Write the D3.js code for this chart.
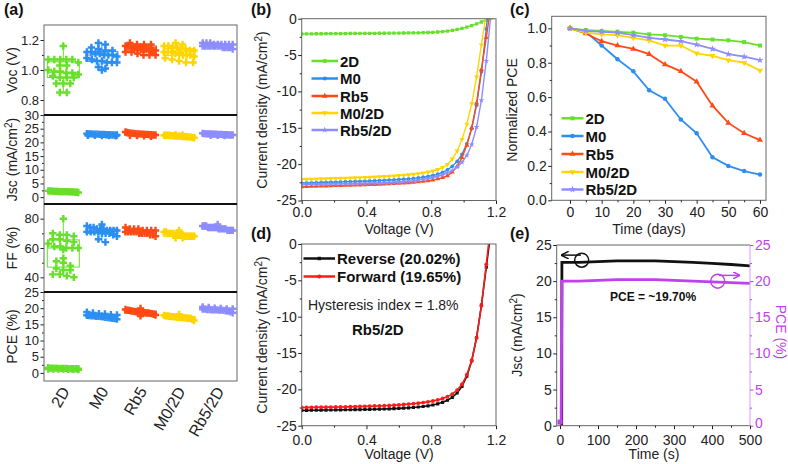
<!DOCTYPE html>
<html>
<head>
<meta charset="utf-8">
<script src="https://cdn.jsdelivr.net/npm/d3@7"></script>
<style>
  body { margin: 0; background: #fff; }
  svg text { font-family: "Liberation Sans", Arial, sans-serif; }
</style>
</head>
<body>
<svg id="fig" width="788" height="464"></svg>
<script>
// ---- data ----
var groups = ["2D", "M0", "Rb5", "M0/2D", "Rb5/2D"];
var groupColors = ["#66e02a", "#2d8ef2", "#ff4a14", "#ffd500", "#8d8dff"];

var vocVals = [
  [1.16,1.07,1.07,1.07,1.07,1.07,1.05,1.03,1.03,1.00,0.99,0.99,0.98,0.98,0.97,0.96,0.95,0.95,0.95,0.91,0.91,0.91,0.85,0.85],
  [1.18,1.17,1.15,1.14,1.13,1.13,1.12,1.12,1.11,1.11,1.10,1.10,1.10,1.09,1.08,1.07,1.06,1.06,1.05,1.05,1.05,1.02,1.01,1.00],
  [1.18,1.17,1.17,1.17,1.16,1.16,1.16,1.15,1.15,1.15,1.15,1.14,1.14,1.14,1.14,1.13,1.13,1.13,1.12,1.12,1.11,1.10,1.10,1.10],
  [1.18,1.17,1.16,1.16,1.15,1.15,1.14,1.14,1.13,1.13,1.12,1.12,1.12,1.11,1.11,1.10,1.10,1.10,1.09,1.08,1.07,1.06,1.05,1.05],
  [1.18,1.18,1.18,1.17,1.17,1.17,1.17,1.17,1.16,1.16,1.16,1.16,1.16,1.16,1.16,1.15,1.15,1.15,1.17,1.16,1.15,1.14]
];
var jscVals = [
  [2.3,2.1,2.0,1.9,2.2,1.8,2.0,2.1,1.9,2.0,2.2,1.8,2.0,1.9,2.1,2.0,1.7,2.3,2.0,1.9],
  [22.9,23.1,22.7,22.5,23.0,22.8,22.6,23.2,22.9,22.4,22.7,23.0,22.8,22.6,22.9,23.1,22.5,22.8,22.7,23.0],
  [23.8,23.3,22.9,23.1,22.7,23.5,23.0,22.4,22.8,23.2,22.6,23.4,22.9,22.2,23.0,22.7,23.1,22.5,23.6,22.8],
  [22.6,22.3,22.0,22.5,22.1,21.8,22.4,22.7,22.2,21.9,22.6,22.3,22.0,22.5,22.8,22.1,22.4,21.7,22.3,22.6],
  [23.0,22.8,23.1,22.7,23.3,22.9,22.6,23.0,22.8,23.2,22.5,22.9,23.1,22.7,22.8,23.0,22.6,22.9,23.1,22.7]
];
var ffVals = [
  [80,70,69,69,68,66,66,65,64,63,61,61,60,60,60,59,53,51,50,48,46,45,45,42,42,41,40],
  [76,75,74,74,73,73,73,72,72,72,72,71,71,71,71,70,70,70,69,68,66,64],
  [74,73,73,73,72,72,72,72,71,71,71,71,71,70,70,70,70,69,69,68],
  [72,71,71,70,70,70,70,69,69,69,69,69,68,68,68,68,68,68,67,67],
  [76,75,75,75,74,74,74,74,74,74,73,73,73,73,73,72,72,72,72]
];
var pceVals = [
  [1.6,1.5,1.4,1.3,1.5,1.2,1.4,1.3,1.1,1.5,1.2,1.3,1.4,1.0,1.3,1.2,1.4,1.1,1.3,1.2],
  [18.8,18.5,18.3,18.0,17.8,17.7,17.6,17.5,17.4,17.3,17.2,17.0,16.8,16.6,18.2,17.9,17.5,17.1,16.9,17.6],
  [19.9,19.6,19.4,19.2,19.0,18.9,18.8,18.7,18.6,18.5,18.4,18.3,18.1,17.9,17.6,19.1,18.8,18.5,18.9,19.3],
  [18.1,17.8,17.6,17.5,17.4,17.3,17.2,17.1,17.0,16.9,16.8,16.5,16.2,17.3,17.6,17.2,17.4,17.0,16.9,17.1],
  [20.4,20.2,20.0,19.9,19.8,19.7,19.6,19.5,19.5,19.4,19.3,19.2,19.1,18.9,18.6,19.6,19.8,19.4,19.7,19.5]
];

var jvVolt = [0,0.03,0.06,0.09,0.12,0.15,0.18,0.21,0.24,0.27,0.30,0.33,0.36,0.39,0.42,0.45,0.48,0.51,0.54,0.57,
  0.60,0.63,0.66,0.69,0.72,0.75,0.78,0.81,0.84,0.87,0.90,0.93,0.96,0.99,1.02,1.05,1.08,1.11,1.14,1.17];
var jv2D = [-2.10,-2.09,-2.08,-2.07,-2.07,-2.06,-2.05,-2.05,-2.04,-2.04,-2.03,-2.03,-2.02,-2.02,-2.01,-2.01,-2.00,-2.00,-1.99,-1.99,
  -1.98,-1.97,-1.96,-1.95,-1.94,-1.92,-1.90,-1.87,-1.83,-1.77,-1.70,-1.60,-1.48,-1.33,-1.15,-0.94,-0.70,-0.45,-0.18,0.10];
var jvM0 = [-22.60,-22.58,-22.56,-22.54,-22.52,-22.50,-22.48,-22.46,-22.44,-22.42,-22.40,-22.38,-22.36,-22.34,-22.31,-22.28,-22.25,-22.22,-22.19,-22.15,
  -22.11,-22.07,-22.02,-21.96,-21.89,-21.80,-21.69,-21.55,-21.37,-21.12,-20.78,-20.30,-19.62,-18.65,-17.20,-15.10,-11.90,-7.30,-1.40,5.00];
var jvRb5 = [-23.10,-23.08,-23.06,-23.04,-23.02,-23.00,-22.98,-22.96,-22.94,-22.92,-22.90,-22.88,-22.86,-22.84,-22.82,-22.80,-22.77,-22.74,-22.71,-22.68,
  -22.64,-22.60,-22.55,-22.50,-22.44,-22.37,-22.28,-22.17,-22.03,-21.85,-21.60,-21.10,-20.30,-19.10,-17.40,-15.00,-11.60,-7.00,-2.60,2.00];
var jvM02D = [-22.10,-22.08,-22.06,-22.04,-22.02,-22.00,-21.98,-21.96,-21.94,-21.92,-21.90,-21.88,-21.86,-21.83,-21.80,-21.77,-21.74,-21.70,-21.66,-21.62,
  -21.57,-21.52,-21.46,-21.39,-21.31,-21.21,-21.09,-20.94,-20.74,-20.46,-20.06,-19.30,-18.20,-16.60,-14.50,-11.70,-8.00,-3.60,0.80,5.50];
var jvRb52D = [-22.80,-22.79,-22.78,-22.77,-22.76,-22.75,-22.74,-22.73,-22.72,-22.71,-22.70,-22.69,-22.68,-22.66,-22.64,-22.62,-22.60,-22.57,-22.54,-22.50,
  -22.46,-22.41,-22.35,-22.28,-22.20,-22.10,-21.98,-21.84,-21.67,-21.46,-21.20,-20.86,-20.40,-19.75,-18.80,-17.30,-14.90,-11.20,-5.80,0.90];

var agingDays = [0,5,10,15,20,25,30,35,40,45,50,55,60];
var age2D = [1.0,0.99,0.985,0.98,0.975,0.965,0.96,0.95,0.94,0.935,0.93,0.92,0.90];
var ageM0 = [1.0,0.98,0.90,0.82,0.75,0.64,0.59,0.47,0.39,0.25,0.20,0.17,0.15];
var ageRb5 = [1.0,0.97,0.925,0.90,0.88,0.85,0.79,0.75,0.69,0.55,0.45,0.39,0.35];
var ageM02D = [1.0,0.975,0.965,0.96,0.945,0.93,0.90,0.90,0.855,0.84,0.815,0.80,0.755];
var ageRb52D = [1.0,0.985,0.98,0.975,0.96,0.945,0.935,0.925,0.905,0.88,0.85,0.835,0.815];

var hystNames = ["Reverse (20.02%)", "Forward (19.65%)"];
var jvRev = [-22.90,-22.89,-22.88,-22.87,-22.86,-22.85,-22.84,-22.83,-22.82,-22.81,-22.80,-22.79,-22.78,-22.77,-22.76,-22.74,-22.72,-22.70,-22.68,-22.65,
  -22.62,-22.58,-22.54,-22.49,-22.43,-22.36,-22.27,-22.15,-21.99,-21.78,-21.50,-21.10,-20.50,-19.60,-18.20,-16.10,-12.90,-8.40,-3.20,2.00];
var jvFwd = [-22.50,-22.49,-22.48,-22.47,-22.46,-22.45,-22.44,-22.43,-22.42,-22.41,-22.40,-22.38,-22.36,-22.34,-22.32,-22.30,-22.28,-22.25,-22.22,-22.18,
  -22.14,-22.09,-22.03,-21.97,-21.90,-21.82,-21.72,-21.60,-21.45,-21.25,-21.00,-20.65,-20.10,-19.30,-18.00,-16.00,-12.90,-8.50,-2.80,3.20];

var mppTimeJ = [4.5,5,50,100,150,200,250,300,350,400,450,500];
var mppJsc = [0,22.6,22.6,22.7,22.8,22.8,22.8,22.7,22.6,22.45,22.3,22.1];
var mppTimeP = [0,3,5,50,100,150,200,250,300,350,400,450,500];
var mppPce = [0.5,0.5,20.0,20.0,20.1,20.2,20.2,20.2,20.1,20.0,19.9,19.8,19.7];

// ---- drawing ----
var svg = d3.select("#fig");
var magenta = "#c23ef2";
var symTypes = [d3.symbolSquare, d3.symbolCircle, d3.symbolTriangle, d3.symbolTriangle, d3.symbolStar];

function fmtNum(dec) { return function(d) { return dec ? d.toFixed(dec) : String(d); }; }

function frame(x, y, color) {
  svg.append("rect")
    .attr("x", x.range()[0]).attr("y", y.range()[1])
    .attr("width", x.range()[1] - x.range()[0])
    .attr("height", y.range()[0] - y.range()[1])
    .attr("fill", "none").attr("stroke", color || "#666").attr("stroke-width", 1);
}

function axis(orient, scale, pos, major, minor, fmt, size, color, pad) {
  color = color || "#222";
  var mk = orient == "left" ? d3.axisLeft : orient == "right" ? d3.axisRight : d3.axisBottom;
  var tr = orient == "bottom" ? "translate(0," + pos + ")" : "translate(" + pos + ",0)";
  if (minor) {
    var m = svg.append("g").attr("transform", tr)
      .call(mk(scale).tickValues(minor).tickSize(2).tickFormat(""));
    m.select(".domain").remove();
    m.selectAll("line").attr("stroke", color);
  }
  var a = svg.append("g").attr("transform", tr)
    .call(mk(scale).tickValues(major).tickSize(3.5).tickPadding(pad || 1.5).tickFormat(fmt));
  a.select(".domain").remove();
  a.selectAll("line").attr("stroke", color);
  a.selectAll("text").attr("fill", color).attr("font-size", size || 14);
  return a;
}

function title(txt, x, y, rot, size, color, weight) {
  var t = svg.append("text")
    .attr("transform", "translate(" + x + "," + y + ")" + (rot ? " rotate(" + rot + ")" : ""))
    .attr("text-anchor", "middle")
    .attr("font-size", size || 14)
    .attr("font-weight", weight || "normal")
    .attr("fill", color || "#222");
  return t;
}

function titleSup(x, y, rot, pre, post, color) {
  var t = title("", x, y, rot, 14, color);
  t.append("tspan").text(pre);
  t.append("tspan").attr("dy", -5).attr("font-size", 10).text("2");
  t.append("tspan").attr("dy", 5).text(post);
}

function series(g, xs, ys, x, y, color, si, size, lw) {
  var pts = xs.map(function(v, i) { return [x(v), y(ys[i])]; });
  g.append("path").attr("d", d3.line()(pts))
    .attr("fill", "none").attr("stroke", color).attr("stroke-width", lw);
  g.selectAll(null).data(pts).join("path")
    .attr("transform", function(d) { return "translate(" + d[0] + "," + d[1] + ")" + (si == 3 ? " rotate(180)" : ""); })
    .attr("d", d3.symbol(symTypes[si], size)())
    .attr("fill", color);
}

function legendRow(x0, x1, y, color, si, size, label, fs) {
  svg.append("line").attr("x1", x0).attr("x2", x1).attr("y1", y).attr("y2", y)
    .attr("stroke", color).attr("stroke-width", 2.5);
  svg.append("path")
    .attr("transform", "translate(" + (x0 + x1) / 2 + "," + y + ")" + (si == 3 ? " rotate(180)" : ""))
    .attr("d", d3.symbol(symTypes[si], size)()).attr("fill", color);
  svg.append("text").attr("x", x1 + 2).attr("y", y + 5.5)
    .attr("font-size", fs || 15).attr("font-weight", "bold").attr("fill", "#111").text(label);
}

function clipFor(id, x, y) {
  svg.append("clipPath").attr("id", id).append("rect")
    .attr("x", x.range()[0]).attr("y", y.range()[1])
    .attr("width", x.range()[1] - x.range()[0]).attr("height", y.range()[0] - y.range()[1]);
  return svg.append("g").attr("clip-path", "url(#" + id + ")");
}

// ---------- panel (a) ----------
var xa = d3.scaleBand().domain(groups).range([44, 237]);
var subs = [
  { vals: vocVals, dom: [0.7, 1.3], top: 25, bot: 115, major: [0.8, 1.0, 1.2], minor: [0.9, 1.1], fmt: fmtNum(1) },
  { vals: jscVals, dom: [-2.5, 30], top: 115, bot: 204, major: [0, 5, 10, 15, 20, 25, 30], minor: [2.5, 7.5, 12.5, 17.5, 22.5, 27.5], fmt: fmtNum(0) },
  { vals: ffVals, dom: [30, 90], top: 204, bot: 292, major: [40, 60, 80], minor: [50, 70], fmt: fmtNum(0) },
  { vals: pceVals, dom: [-2.5, 25], top: 292, bot: 381, major: [0, 5, 10, 15, 20, 25], minor: [2.5, 7.5, 12.5, 17.5, 22.5], fmt: fmtNum(0) }
];
var aTitles = ["Voc (V)", null, "FF (%)", "PCE (%)"];

subs.forEach(function(s, si) {
  var y = d3.scaleLinear().domain(s.dom).range([s.bot, s.top]);
  axis("left", y, 44, s.major, s.minor, s.fmt, 13);
  s.vals.forEach(function(vals, gi) {
    var cx = xa(groups[gi]) + xa.bandwidth() / 2;
    var col = groupColors[gi];
    var sorted = vals.slice().sort(d3.ascending);
    var q1 = d3.quantile(sorted, 0.25), q3 = d3.quantile(sorted, 0.75), md = d3.quantile(sorted, 0.5);
    var bw = 16;
    svg.append("line").attr("x1", cx).attr("x2", cx).attr("y1", y(sorted[sorted.length - 1])).attr("y2", y(sorted[0]))
      .attr("stroke", col).attr("stroke-width", 1);
    svg.append("rect").attr("x", cx - bw).attr("y", y(q3)).attr("width", bw * 2).attr("height", Math.max(0, y(q1) - y(q3)))
      .attr("fill", "#fff").attr("stroke", col).attr("stroke-width", 1);
    svg.append("line").attr("x1", cx - bw).attr("x2", cx + bw).attr("y1", y(md)).attr("y2", y(md))
      .attr("stroke", col).attr("stroke-width", 1);
    // binned swarm layout
    var pts = vals.map(function(v) { return y(v); }).sort(d3.ascending);
    var bins = d3.groups(pts, function(p) { return Math.round(p / 6); });
    bins.forEach(function(b) {
      var arr = b[1], k = arr.length;
      var sp = k > 1 ? Math.min(7, 30 / (k - 1)) : 0;
      arr.forEach(function(py, j) {
        svg.append("path")
          .attr("transform", "translate(" + (cx + (j - (k - 1) / 2) * sp) + "," + py + ")")
          .attr("d", d3.symbol(d3.symbolCross, 30)())
          .attr("fill", col);
      });
    });
  });
  if (aTitles[si]) title(aTitles[si], 17, (s.top + s.bot) / 2, -90, 14).text(aTitles[si]);
});
titleSup(17, 159.5, -90, "Jsc (mA/cm", ")");
// frame and separators
svg.append("rect").attr("x", 44).attr("y", 25).attr("width", 193).attr("height", 356)
  .attr("fill", "none").attr("stroke", "#666");
[115, 204, 292].forEach(function(yy) {
  svg.append("line").attr("x1", 44).attr("x2", 237).attr("y1", yy).attr("y2", yy)
    .attr("stroke", "#111").attr("stroke-width", 2);
});
groups.forEach(function(gname) {
  var cx = xa(gname) + xa.bandwidth() / 2;
  svg.append("text").attr("transform", "translate(" + (cx + 7) + ",391) rotate(-60)")
    .attr("text-anchor", "end").attr("font-size", 16).attr("fill", "#222").text(gname);
});

// ---------- panel (b) ----------
var xb = d3.scaleLinear().domain([0, 1.2]).range([301.7, 496]);
var yb = d3.scaleLinear().domain([-25, 0]).range([200.5, 18.7]);
var gb = clipFor("clipb", xb, yb);
var jvSets = [jv2D, jvM0, jvRb5, jvM02D, jvRb52D];
jvSets.forEach(function(js, i) { series(gb, jvVolt, js, xb, yb, groupColors[i], i, 11, 1.4); });
frame(xb, yb);
axis("left", yb, 301.7, [0, -5, -10, -15, -20, -25], [-2.5, -7.5, -12.5, -17.5, -22.5], fmtNum(0));
axis("bottom", xb, 200.5, [0, 0.4, 0.8, 1.2], [0.2, 0.6, 1.0], fmtNum(1), 14, null, 3.5);
title("", 399, 234).text("Voltage (V)");
titleSup(267, 110, -90, "Current density (mA/cm", ")");
var legB = [61, 78.5, 96, 113, 130];
groups.forEach(function(gname, i) { legendRow(311.5, 338, legB[i], groupColors[i], i, 14, gname); });

// ---------- panel (c) ----------
var xc = d3.scaleLinear().domain([-5.78, 61.9]).range([551.7, 766]);
var yc = d3.scaleLinear().domain([0, 1.07]).range([200.3, 16.3]);
var ageSets = [age2D, ageM0, ageRb5, ageM02D, ageRb52D];
ageSets.forEach(function(a, i) { series(svg, agingDays, a, xc, yc, groupColors[i], i, 16, 1.8); });
frame(xc, yc);
axis("left", yc, 551.7, [0, 0.2, 0.4, 0.6, 0.8, 1.0], [0.1, 0.3, 0.5, 0.7, 0.9], fmtNum(1));
axis("bottom", xc, 200.3, [0, 10, 20, 30, 40, 50, 60], [5, 15, 25, 35, 45, 55], fmtNum(0), 14, null, 3.5);
title("", 649, 234).text("Time (days)");
title("", 517, 110, -90).text("Normalized PCE");
var legC = [118.3, 136, 154, 172, 189.5];
groups.forEach(function(gname, i) { legendRow(561.5, 583.5, legC[i], groupColors[i], i, 16, gname); });

// ---------- panel (d) ----------
var xd = d3.scaleLinear().domain([0, 1.2]).range([301.7, 496]);
var yd = d3.scaleLinear().domain([-25, 0]).range([425.7, 244]);
var gd = clipFor("clipd", xd, yd);
series(gd, jvVolt, jvRev, xd, yd, "#111", 0, 10, 1.6);
series(gd, jvVolt, jvFwd, xd, yd, "#ff1a1a", 1, 12, 1.6);
frame(xd, yd);
axis("left", yd, 301.7, [0, -5, -10, -15, -20, -25], [-2.5, -7.5, -12.5, -17.5, -22.5], fmtNum(0));
axis("bottom", xd, 425.7, [0, 0.4, 0.8, 1.2], [0.2, 0.6, 1.0], fmtNum(1), 14, null, 5.5);
title("", 399, 459).text("Voltage (V)");
titleSup(267, 335, -90, "Current density (mA/cm", ")");
legendRow(303.5, 335, 258.5, "#111", 0, 12, hystNames[0]);
legendRow(303.5, 335, 276.5, "#ff1a1a", 1, 14, hystNames[1]);
svg.append("text").attr("x", 308).attr("y", 310).attr("font-size", 14).attr("fill", "#222").text("Hysteresis index = 1.8%");
svg.append("text").attr("x", 352).attr("y", 335).attr("font-size", 15).attr("font-weight", "bold").attr("fill", "#111").text("Rb5/2D");

// ---------- panel (e) ----------
var xe = d3.scaleLinear().domain([-8.7, 500]).range([556.7, 750]);
var yeL = d3.scaleLinear().domain([0, 25]).range([425.7, 245]);
var yeR = d3.scaleLinear().domain([0, 25]).range([425.7, 245]);
var ge = clipFor("clipe", xe, yeL);
ge.append("path").attr("d", d3.line()(mppTimeJ.map(function(t, i) { return [xe(t), yeL(mppJsc[i])]; })))
  .attr("fill", "none").attr("stroke", "#111").attr("stroke-width", 2.8);
ge.append("path").attr("d", d3.line()(mppTimeP.map(function(t, i) { return [xe(t), yeR(mppPce[i])]; })))
  .attr("fill", "none").attr("stroke", magenta).attr("stroke-width", 2.8);
ge.append("rect").attr("x", xe(0) - 2.5).attr("y", yeR(mppPce[0]) - 2.5).attr("width", 5).attr("height", 5).attr("fill", magenta);
svg.append("line").attr("x1", 556.7).attr("x2", 750).attr("y1", 245).attr("y2", 245).attr("stroke", "#666");
svg.append("line").attr("x1", 556.7).attr("x2", 750).attr("y1", 425.7).attr("y2", 425.7).attr("stroke", "#666");
svg.append("line").attr("x1", 556.7).attr("x2", 556.7).attr("y1", 245).attr("y2", 425.7).attr("stroke", "#666");
svg.append("line").attr("x1", 750).attr("x2", 750).attr("y1", 245).attr("y2", 425.7).attr("stroke", "#d49af5");
axis("left", yeL, 556.7, [0, 5, 10, 15, 20, 25], [2.5, 7.5, 12.5, 17.5, 22.5], fmtNum(0));
var rAx = axis("right", yeR, 750, [0, 5, 10, 15, 20, 25], [2.5, 7.5, 12.5, 17.5, 22.5], fmtNum(0), 14, magenta);
rAx.selectAll("text").filter(function(d) { return d === 0; }).attr("dy", "0.1em");
axis("bottom", xe, 425.7, [0, 100, 200, 300, 400, 500], [50, 150, 250, 350, 450], fmtNum(0), 14, null, 5.5);
title("", 654, 459).text("Time (s)");
titleSup(522, 335, -90, "Jsc (mA/cm", ")");
title("", 776, 332, 90, 14, magenta).text("PCE (%)");
// annotation circles with arrows
svg.append("defs").html(
  '<marker id="arrK" viewBox="0 0 10 10" refX="9" refY="5" markerWidth="5" markerHeight="5" orient="auto"><path d="M0,0 L10,5 L0,10" fill="none" stroke="#111" stroke-width="2"/></marker>' +
  '<marker id="arrM" viewBox="0 0 10 10" refX="9" refY="5" markerWidth="5" markerHeight="5" orient="auto"><path d="M0,0 L10,5 L0,10" fill="none" stroke="' + magenta + '" stroke-width="2"/></marker>');
svg.append("circle").attr("cx", xe(57)).attr("cy", yeL(22.9)).attr("r", 7).attr("fill", "none").attr("stroke", "#111").attr("stroke-width", 1.5);
svg.append("line").attr("x1", xe(55)).attr("x2", xe(5)).attr("y1", yeL(23.6)).attr("y2", yeL(23.6))
  .attr("stroke", "#111").attr("stroke-width", 1.5).attr("marker-end", "url(#arrK)");
svg.append("circle").attr("cx", xe(415)).attr("cy", yeR(20.0)).attr("r", 7).attr("fill", "none").attr("stroke", magenta).attr("stroke-width", 1.5);
svg.append("line").attr("x1", xe(418)).attr("x2", xe(472)).attr("y1", yeR(20.8)).attr("y2", yeR(20.8))
  .attr("stroke", magenta).attr("stroke-width", 1.5).attr("marker-end", "url(#arrM)");
svg.append("text").attr("x", 610).attr("y", 301).attr("font-size", 12).attr("font-weight", "bold").attr("fill", "#111").text("PCE = ~19.70%");

// ---------- panel labels ----------
[["(a)", 4, 15], ["(b)", 251, 15], ["(c)", 510, 15], ["(d)", 251, 239], ["(e)", 510, 239]].forEach(function(p) {
  svg.append("text").attr("x", p[1]).attr("y", p[2]).attr("font-size", 16).attr("font-weight", "bold").attr("fill", "#111").text(p[0]);
});
</script>
</body>
</html>
